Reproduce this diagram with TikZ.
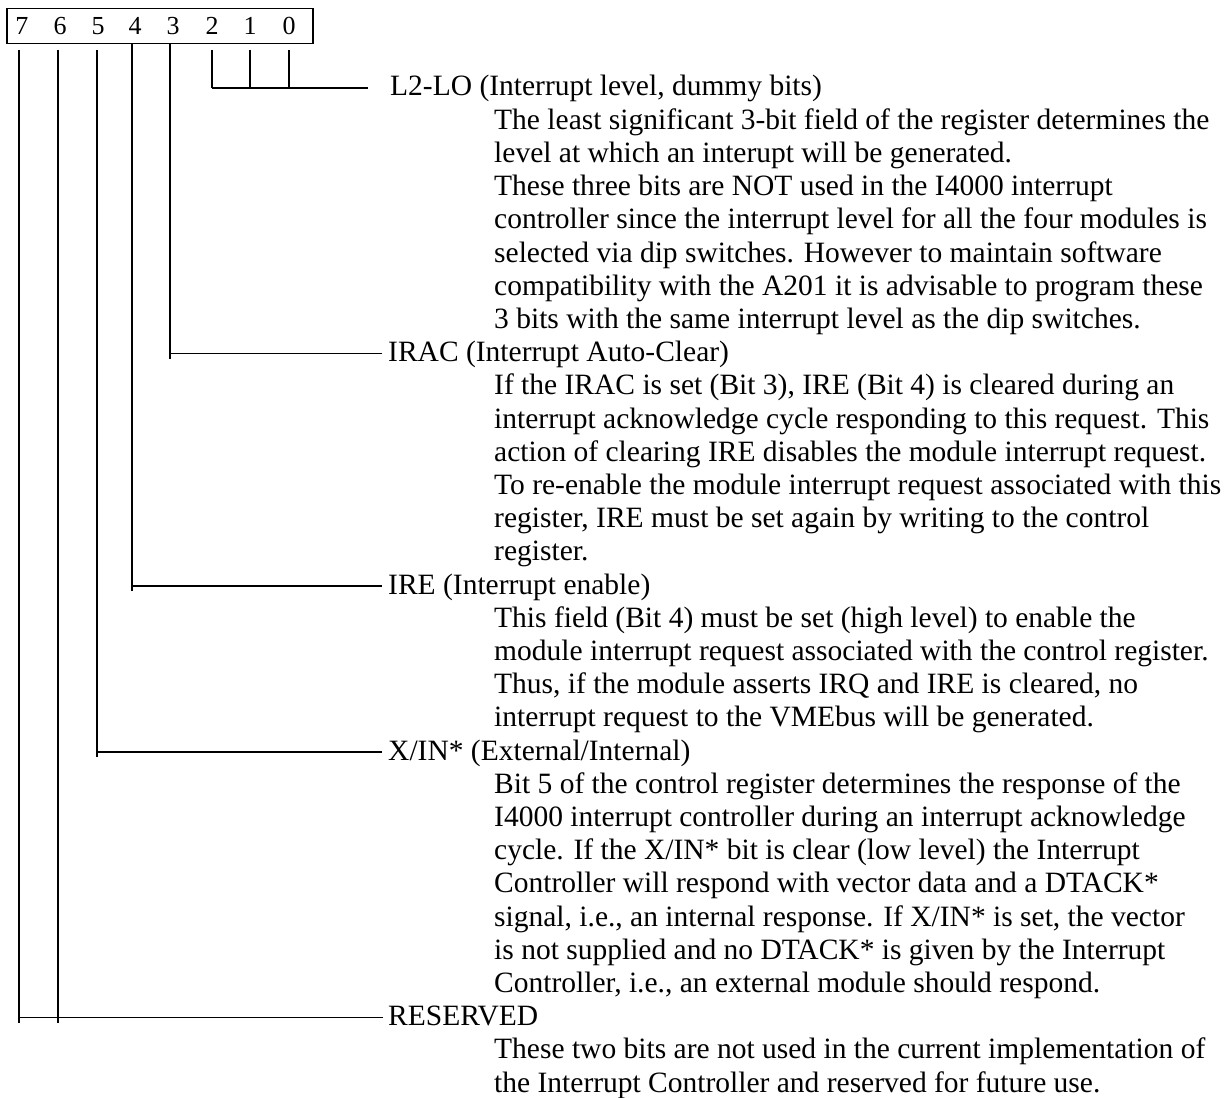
\documentclass[tikz,border=0pt]{standalone}
\usepackage{fontspec}
\setmainfont{Liberation Serif}
\newcommand{\rowy}[1]{96+33.2*(#1-1)}
\newcommand{\rowh}[1]{88+33.2*(#1-1)}
\begin{document}
\begin{tikzpicture}[x=1pt,y=-1pt,
  txt/.style={anchor=base west, inner sep=0pt, font=\fontsize{29.5}{33}\selectfont},
  dig/.style={inner sep=0pt, font=\fontsize{26}{30}\selectfont},
  vline/.style={line width=2.2pt},
  hline/.style={line width=1.5pt}]
\useasboundingbox (0,0) rectangle (1228,1097);
% register box
\node[draw, line width=1.5pt, anchor=north west, minimum width=306pt, minimum height=35pt, inner sep=0pt] (reg) at (6,8) {};
\node[dig] (b7) at (22,26) {7};
\node[dig] (b6) at (60,26) {6};
\node[dig] (b5) at (98,26) {5};
\node[dig] (b4) at (135,26) {4};
\node[dig] (b3) at (173,26) {3};
\node[dig] (b2) at (212,26) {2};
\node[dig] (b1) at (250,26) {1};
\node[dig] (b0) at (289,26) {0};
% tap coordinates
\coordinate (t7) at (19,50);
\coordinate (t6) at (58,50);
\coordinate (t5) at (97,50);
\coordinate (t4) at (132,43);
\coordinate (t3) at (170,43);
\coordinate (t2) at (212,50);
\coordinate (t1) at (250,50);
\coordinate (t0) at (289,50);
% junctions
\coordinate (j0) at (212,{\rowh{1}});
\coordinate (e0) at (368,{\rowh{1}});
\coordinate (j3) at (170,{\rowh{9}});
\coordinate (e3) at (382,{\rowh{9}});
\coordinate (j4) at (132,{\rowh{16}});
\coordinate (e4) at (382,{\rowh{16}});
\coordinate (j5) at (97,{\rowh{21}});
\coordinate (e5) at (382,{\rowh{21}});
\coordinate (j7) at (19,{\rowh{29}});
\coordinate (j6) at (58,{\rowh{29}});
\coordinate (e7) at (383,{\rowh{29}});
% lines
\draw[vline] (t2) -- (t2 |- j0);
\draw[vline] (t1) -- (t1 |- j0);
\draw[vline] (t0) -- (t0 |- j0);
\draw[hline] (j0) -- (e0);
\draw[vline] (t3) -- ([yshift=-5pt]j3);
\draw[hline] (j3) -- (e3);
\draw[vline] (t4) -- ([yshift=-5pt]j4);
\draw[hline] (j4) -- (e4);
\draw[vline] (t5) -- ([yshift=-5pt]j5);
\draw[hline] (j5) -- (e5);
\draw[vline] (t7) -- ([yshift=-5pt]j7);
\draw[vline] (t6) -- ([yshift=-5pt]j6);
\draw[hline] (j7) -- (e7);
% texts
\node[txt] (h0) at (390,{\rowy{1}}) {L2-LO (Interrupt level, dummy bits)};
\node[txt] (d02) at (494,{\rowy{2}}) {The least significant 3-bit field of the register determines the};
\node[txt] (d03) at (494,{\rowy{3}}) {level at which an interupt will be generated.};
\node[txt] (d04) at (494,{\rowy{4}}) {These three bits are NOT used in the I4000 interrupt};
\node[txt] (d05) at (494,{\rowy{5}}) {controller since the interrupt level for all the four modules is};
\node[txt] (d06) at (494,{\rowy{6}}) {selected via dip switches. However to maintain software};
\node[txt] (d07) at (494,{\rowy{7}}) {compatibility with the A201 it is advisable to program these};
\node[txt] (d08) at (494,{\rowy{8}}) {3 bits with the same interrupt level as the dip switches.};
\node[txt] (h3) at (388,{\rowy{9}}) {IRAC (Interrupt Auto-Clear)};
\node[txt] (d10) at (494,{\rowy{10}}) {If the IRAC is set (Bit 3), IRE (Bit 4) is cleared during an};
\node[txt] (d11) at (494,{\rowy{11}}) {interrupt acknowledge cycle responding to this request. This};
\node[txt] (d12) at (494,{\rowy{12}}) {action of clearing IRE disables the module interrupt request.};
\node[txt] (d13) at (494,{\rowy{13}}) {To re-enable the module interrupt request associated with this};
\node[txt] (d14) at (494,{\rowy{14}}) {register, IRE must be set again by writing to the control};
\node[txt] (d15) at (494,{\rowy{15}}) {register.};
\node[txt] (h4) at (388,{\rowy{16}}) {IRE (Interrupt enable)};
\node[txt] (d17) at (494,{\rowy{17}}) {This field (Bit 4) must be set (high level) to enable the};
\node[txt] (d18) at (494,{\rowy{18}}) {module interrupt request associated with the control register.};
\node[txt] (d19) at (494,{\rowy{19}}) {Thus, if the module asserts IRQ and IRE is cleared, no};
\node[txt] (d20) at (494,{\rowy{20}}) {interrupt request to the VMEbus will be generated.};
\node[txt] (h5) at (388,{\rowy{21}}) {X/IN* (External/Internal)};
\node[txt] (d22) at (494,{\rowy{22}}) {Bit 5 of the control register determines the response of the};
\node[txt] (d23) at (494,{\rowy{23}}) {I4000 interrupt controller during an interrupt acknowledge};
\node[txt] (d24) at (494,{\rowy{24}}) {cycle. If the X/IN* bit is clear (low level) the Interrupt};
\node[txt] (d25) at (494,{\rowy{25}}) {Controller will respond with vector data and a DTACK*};
\node[txt] (d26) at (494,{\rowy{26}}) {signal, i.e., an internal response. If X/IN* is set, the vector};
\node[txt] (d27) at (494,{\rowy{27}}) {is not supplied and no DTACK* is given by the Interrupt};
\node[txt] (d28) at (494,{\rowy{28}}) {Controller, i.e., an external module should respond.};
\node[txt] (h7) at (388,{\rowy{29}}) {RESERVED};
\node[txt] (d30) at (494,{\rowy{30}}) {These two bits are not used in the current implementation of};
\node[txt] (d31) at (494,{\rowy{31}}) {the Interrupt Controller and reserved for future use.};
\end{tikzpicture}
\end{document}
